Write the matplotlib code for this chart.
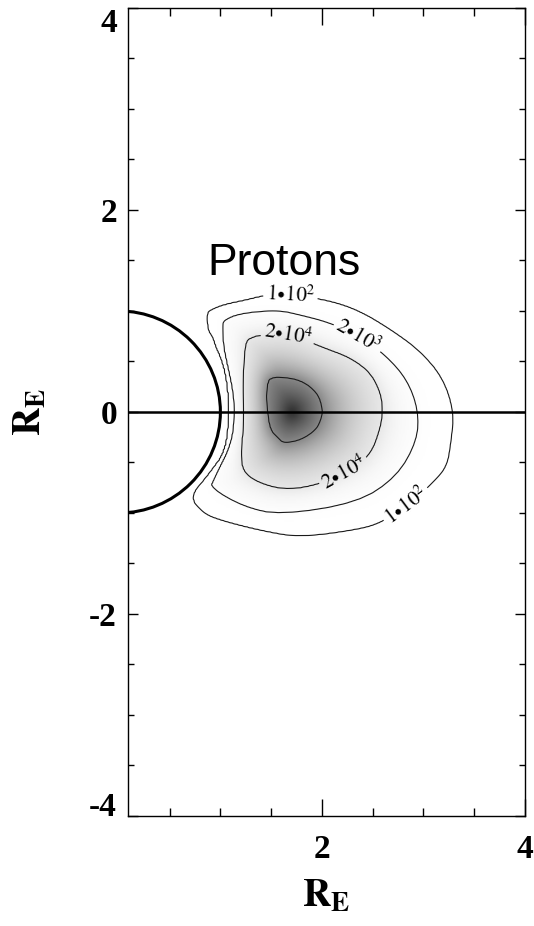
import numpy as np
import matplotlib
matplotlib.use('Agg')
import matplotlib.pyplot as plt
from matplotlib.path import Path
from matplotlib.patches import Circle
from matplotlib.colors import LinearSegmentedColormap

plt.rcParams['font.family'] = ['Liberation Serif', 'DejaVu Serif']
plt.rcParams['mathtext.fontset'] = 'stix'
plt.rcParams['axes.unicode_minus'] = False

# proton density contours (traced outlines, R_E units), outermost first
contour_values = [1e2, 2e3, 2e4, 1e5]
contour_labels = [r'$1\!\bullet\!10^2$', r'$2\!\bullet\!10^3$', r'$2\!\bullet\!10^4$', '']

c1e2_x = [0.87, 0.91, 1.03, 1.27, 1.42, 1.70, 2.08, 2.37, 2.67, 2.96, 3.19, 3.30, 3.27, 3.23, 3.10,
          2.86, 2.59, 2.37, 1.78, 1.39, 1.00, 0.83, 0.70, 0.87, 1.06, 1.09, 1.07, 1.02, 0.96, 0.93, 0.88]
c1e2_y = [0.98, 1.01, 1.06, 1.11, 1.15, 1.16, 1.10, 1.00, 0.82, 0.61, 0.34, 0.00, -0.30, -0.54, -0.69,
          -0.92, -1.09, -1.16, -1.24, -1.17, -1.07, -1.00, -0.84, -0.64, -0.38, 0.00, 0.30, 0.51, 0.64, 0.74, 0.81]

c2e3_x = [1.02, 1.03, 1.20, 1.57, 1.79, 2.06, 2.36, 2.63, 2.84, 2.95, 2.94, 2.74, 2.35, 1.59, 1.23,
          0.90, 0.93, 1.11, 1.14, 1.12, 1.07, 1.03]
c2e3_y = [0.84, 0.91, 0.98, 1.01, 0.96, 0.89, 0.76, 0.56, 0.32, 0.02, -0.28, -0.64, -0.90, -1.02, -0.94,
          -0.75, -0.67, -0.31, 0.00, 0.22, 0.45, 0.64]

c2e4_x = [1.25, 1.32, 1.37, 1.67, 2.01, 2.28, 2.48, 2.58, 2.60, 2.58, 2.48, 2.23, 1.89, 1.62, 1.37,
          1.22, 1.20, 1.22, 1.23, 1.22, 1.23]
c2e4_y = [0.71, 0.74, 0.76, 0.78, 0.64, 0.54, 0.39, 0.19, 0.02, -0.15, -0.43, -0.62, -0.74, -0.77, -0.70,
          -0.59, -0.41, -0.21, 0.00, 0.22, 0.49]

c1e5_x = [1.47, 1.52, 1.57, 1.79, 1.96, 2.01, 1.99, 1.94, 1.79, 1.62, 1.57, 1.49, 1.46, 1.45]
c1e5_y = [0.32, 0.34, 0.35, 0.32, 0.19, 0.02, -0.08, -0.18, -0.28, -0.31, -0.26, -0.18, 0.02, 0.18]

peak_x, peak_y, peak_value = 1.70, 0.0, 1.8e5

label_pos = [(1.69, 1.15), (2.38, 0.79), (1.67, 0.78), (2.23, -0.62), (2.87, -0.97)]


def chaikin(poly, n=2):
    # corner cutting to round off the traced outline
    for _ in range(n):
        nxt = np.roll(poly, -1, axis=0)
        q = 0.75 * poly + 0.25 * nxt
        r = 0.25 * poly + 0.75 * nxt
        poly = np.empty((2 * len(poly), 2))
        poly[0::2], poly[1::2] = q, r
    return poly


def seg_dist(px, py, poly):
    d = np.full(px.shape, np.inf)
    closed = np.vstack([poly, poly[:1]])
    for (x0, y0), (x1, y1) in zip(closed[:-1], closed[1:]):
        dx, dy = x1 - x0, y1 - y0
        t = np.clip(((px - x0) * dx + (py - y0) * dy) / (dx * dx + dy * dy), 0, 1)
        d = np.minimum(d, np.hypot(px - x0 - t * dx, py - y0 - t * dy))
    return d


def density_field(X, Y):
    polys = [np.column_stack([c1e2_x, c1e2_y]), np.column_stack([c2e3_x, c2e3_y]),
             np.column_stack([c2e4_x, c2e4_y]), np.column_stack([c1e5_x, c1e5_y])]
    polys = [chaikin(p) for p in polys]
    levels = np.log10(contour_values)
    pts = np.column_stack([X.ravel(), Y.ravel()])
    inside = [Path(p).contains_points(pts).reshape(X.shape) for p in polys]
    dist = [seg_dist(X, Y, p) for p in polys]

    logn = levels[0] - 2.0 * dist[0]
    for i in range(len(polys) - 1):
        m = inside[i] & ~inside[i + 1]
        t = dist[i] / (dist[i] + dist[i + 1])
        logn[m] = (levels[i] + t * (levels[i + 1] - levels[i]))[m]
    m = inside[-1]
    dp = np.hypot(X - peak_x, Y - peak_y)
    t = dist[-1] / (dist[-1] + dp + 1e-9)
    logn[m] = (levels[-1] + t * (np.log10(peak_value) - levels[-1]))[m]
    return logn


def smooth(a, n=3):
    k = np.ones(2 * n + 1) / (2 * n + 1)
    a = np.apply_along_axis(lambda r: np.convolve(np.pad(r, n, mode='edge'), k, mode='valid'), 0, a)
    a = np.apply_along_axis(lambda r: np.convolve(np.pad(r, n, mode='edge'), k, mode='valid'), 1, a)
    return a


xs = np.arange(0.09, 4.0, 0.0125)
ys = np.arange(-4.0, 4.0, 0.0125)
X, Y = np.meshgrid(xs, ys)
logn = density_field(X, Y)
dens = smooth(10 ** logn)

fig = plt.figure(figsize=(5.34, 9.26), dpi=100)
ax = fig.add_axes([0.2397, 0.1188, 0.7434, 0.8726])

cmap = LinearSegmentedColormap.from_list('gr', ['#ffffff', '#262626'])
ax.imshow(dens, extent=(xs[0], xs[-1], ys[0], ys[-1]), origin='lower', cmap=cmap,
          vmin=0, vmax=peak_value, interpolation='bilinear', aspect='auto', zorder=0)

cs = ax.contour(X, Y, logn, levels=np.log10(contour_values), colors='#1a1a1a', linewidths=0.8, zorder=2)


def fmt(v):
    return contour_labels[int(np.argmin(np.abs(np.log10(contour_values) - v)))]


ax.clabel(cs, levels=cs.levels[:3], fmt=fmt, manual=label_pos, inline=True,
          inline_spacing=3, fontsize=15, colors='black')

# Earth and the equatorial line
ax.add_patch(Circle((0, 0), 1.0, fill=False, lw=2.2, color='black', zorder=3))
ax.axhline(0, color='black', lw=1.8, zorder=3)

ax.text(0.87, 1.36, 'Protons', family='Liberation Sans', fontsize=32, ha='left', va='baseline')

ax.set_xlim(0.09, 4.0)
ax.set_ylim(-4, 4)
ax.set_xticks([2, 4])
ax.set_xticks(np.arange(0.5, 4.0, 0.5), minor=True)
ax.set_yticks([-4, -2, 0, 2, 4])
ax.set_yticks(np.arange(-3.5, 4.0, 0.5), minor=True)
ax.tick_params(which='both', direction='in', top=True, right=True, width=1, labelsize=24)
ax.tick_params(axis='x', which='major', length=12, pad=13)
ax.tick_params(axis='x', which='minor', length=6)
ax.tick_params(axis='y', which='major', length=7, pad=8)
ax.tick_params(axis='y', which='minor', length=4)
for lab in ax.get_xticklabels() + ax.get_yticklabels():
    lab.set_fontweight('bold')
ylabs = ax.get_yticklabels()
ylabs[-1].set_va('top')
ylabs[0].set_va('baseline')
for s in ax.spines.values():
    s.set_linewidth(1.0)

ax.set_xlabel(r'$\mathbf{R}_\mathbf{E}$', fontsize=28, labelpad=10)
ax.set_ylabel(r'$\mathbf{R}_\mathbf{E}$', fontsize=28, labelpad=28)

fig.savefig('out.png', dpi=100)
